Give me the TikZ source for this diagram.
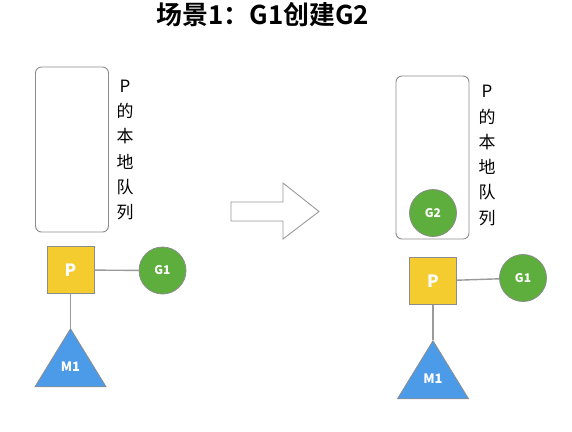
\documentclass[tikz,border=0pt]{standalone}
\usepackage{fontspec}
\setmainfont{Noto Sans CJK SC}
\newfontfamily\titlefont{Noto Sans CJK SC Bold}
\usepackage{xcolor}
\usetikzlibrary{shapes.geometric}
\definecolor{pyellow}{HTML}{F5CC30}
\definecolor{ggreen}{HTML}{5DAE3C}
\definecolor{mblue}{HTML}{4C9BE8}
\definecolor{edgegray}{HTML}{8C8C8C}
\definecolor{linegray}{HTML}{9A9A9A}
\tikzset{
  queue/.style={draw=edgegray, rounded corners=6bp, line width=0.9bp, minimum width=73bp, inner sep=0pt},
  proc/.style={draw=edgegray, fill=pyellow, line width=0.8bp, minimum size=47bp, inner sep=0pt, text=white, font=\bfseries\fontsize{17}{17}\selectfont},
  gor/.style={draw=edgegray, circle, fill=ggreen, line width=0.8bp, minimum size=47bp, inner sep=0pt, text=white, font=\bfseries\fontsize{12}{12}\selectfont},
  mach/.style={draw=edgegray, isosceles triangle, isosceles triangle apex angle=63, shape border rotate=90, fill=mblue, line width=0.8bp, minimum height=58bp, inner sep=0pt},
  mlabel/.style={text=white, font=\bfseries\fontsize{13}{13}\selectfont},
  qlabel/.style={align=center, font=\fontsize{17}{25.3}\selectfont},
  link/.style={draw=linegray, line width=1.4bp}
}

\begin{document}
\begin{tikzpicture}[x=1bp, y=-1bp]
  \useasboundingbox (0,0) rectangle (572,431);
  \node[font=\titlefont\fontsize{26}{26}\selectfont] (title) at (263,15) {场景1：G1创建G2};

  % left: before
  \node[queue, minimum height=165bp] (queueA) at (72,149.5) {};
  \node[qlabel] (labelA) at (125,150) {P\\的\\本\\地\\队\\列};
  \node[proc] (pA) at (70.5,270) {P};
  \node[gor] (g1A) at (162.5,270.5) {G1};
  \node[mach, anchor=apex] (m1A) at (70.5,328) {};
  \node[mlabel] (m1Atext) at (70.5,367) {M1};

  \draw[link] (pA) -- (g1A);
  \draw[link] (pA) -- (m1A.apex);

  % block arrow
  \draw[draw=linegray, fill=white, line width=0.9bp]
    (231,202) -- (283,202) -- (283,183) -- (319,211.5) -- (283,239) -- (283,221) -- (231,221) -- cycle;

  % right: after
  \node[queue, minimum height=163bp] (queueB) at (432.5,157.5) {};
  \node[qlabel] (labelB) at (487,155.5) {P\\的\\本\\地\\队\\列};
  \node[gor] (g2B) at (433,213) {G2};
  \node[proc] (pB) at (433,281) {P};
  \node[gor] (g1B) at (523,278) {G1};
  \node[mach, anchor=apex] (m1B) at (433,340) {};
  \node[mlabel] (m1Btext) at (433,379) {M1};

  \draw[link] (pB) -- (g1B);
  \draw[link] (pB) -- (m1B.apex);
\end{tikzpicture}
\end{document}
